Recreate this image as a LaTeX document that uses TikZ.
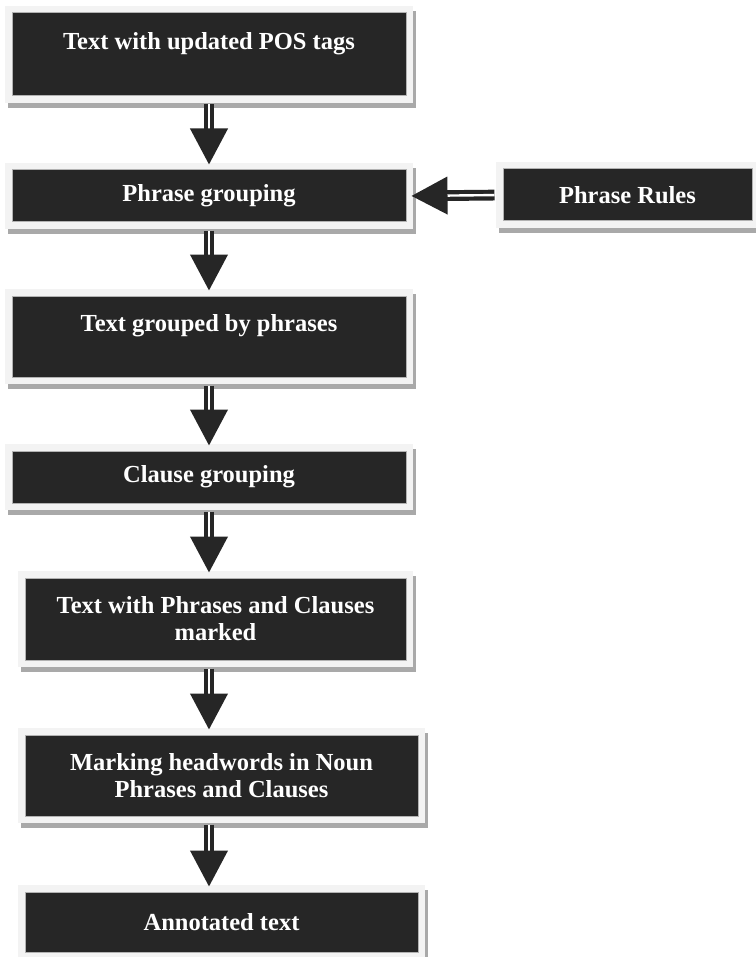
\documentclass[tikz,border=0pt]{standalone}
\usepackage{fontspec}
\setmainfont{Liberation Serif}
\usetikzlibrary{arrows.meta,shadows}
\definecolor{boxfill}{HTML}{262626}
\definecolor{ringgray}{HTML}{F3F3F3}
\definecolor{shadegray}{HTML}{A9A9A9}

\begin{document}
\begin{tikzpicture}[
  x=0.5pt, y=-0.5pt,
  stepbox/.style={rectangle, fill=boxfill, draw=gray!60, line width=0.5pt,
    inner sep=0pt, align=center, text=white,
    font=\fontsize{12.25}{13.5}\selectfont\bfseries,
    general shadow={shadow xshift=1.5pt, shadow yshift=-2.5pt, draw=shadegray, fill=shadegray, line width=7pt},
    preaction={draw=ringgray, line width=7pt}},
  flow/.style={draw=boxfill, double=white, double distance=1.2pt, line width=2.1pt,
    -{Triangle[width=18.5pt, length=18pt]}, shorten <=4pt, shorten >=2.5pt}
]
\useasboundingbox (0,0) rectangle (755,957);
\fill[white] (0,0) rectangle (755,957);

% main column
\node[stepbox, minimum width=197pt, minimum height=41.5pt] (tags) at (209,54.5) {Text with updated POS tags\\\mbox{}};
\node[stepbox, minimum width=197pt, minimum height=26pt] (phrase) at (209,196) {Phrase grouping};
\node[stepbox, minimum width=197pt, minimum height=40.5pt] (grouped) at (209,336.5) {Text grouped by phrases\\\mbox{}};
\node[stepbox, minimum width=197pt, minimum height=26pt] (clause) at (209,477) {Clause grouping};
\node[stepbox, minimum width=190.5pt, minimum height=41pt] (marked) at (215.5,619) {Text with Phrases and Clauses\\marked};
\node[stepbox, minimum width=196.5pt, minimum height=40.5pt] (headwords) at (221.5,775.5) {Marking headwords in Noun\\Phrases and Clauses};
\node[stepbox, minimum width=196.5pt, minimum height=30pt] (annotated) at (221.5,922) {Annotated text};

% rule input
\node[stepbox, minimum width=124.5pt, minimum height=26pt] (rules) at (627.5,195) {Phrase Rules};

\coordinate (col) at (209,0);
\draw[flow] (tags.south -| col) -- (phrase.north -| col);
\draw[flow] (phrase.south -| col) -- (grouped.north -| col);
\draw[flow] (grouped.south -| col) -- (clause.north -| col);
\draw[flow] (clause.south -| col) -- (marked.north -| col);
\draw[flow] (marked.south -| col) -- (headwords.north -| col);
\draw[flow] (headwords.south -| col) -- (annotated.north -| col);
\draw[flow] (rules.west) -- (phrase.east);
\end{tikzpicture}
\end{document}
